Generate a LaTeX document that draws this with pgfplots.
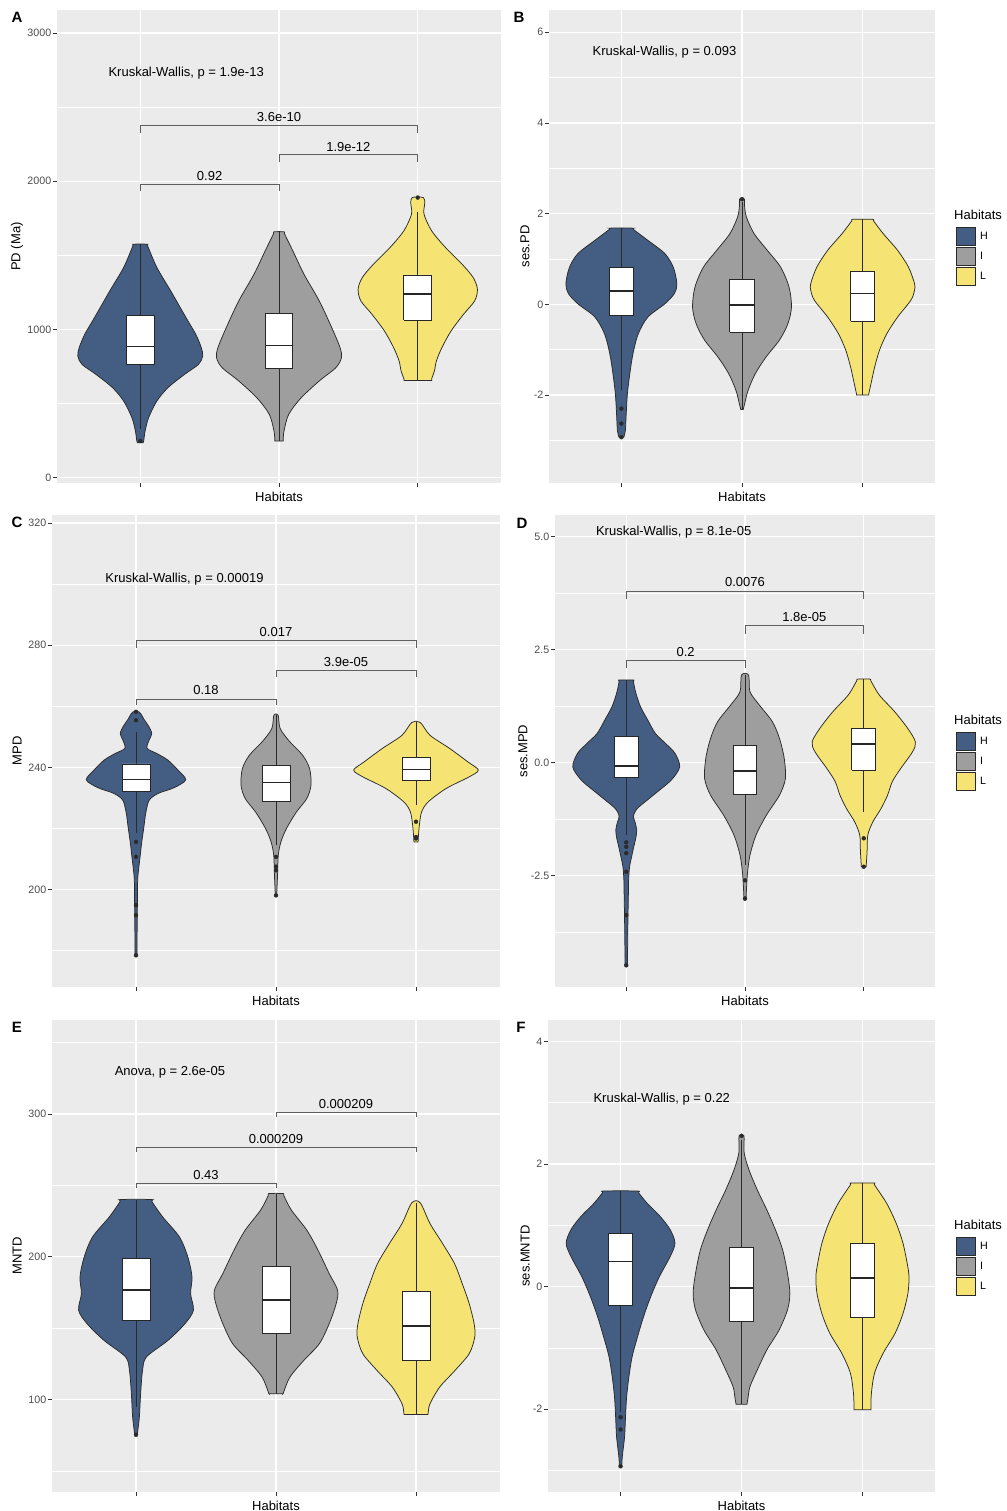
\documentclass[border=0pt]{standalone}
\usepackage{pgfplots}
\pgfplotsset{compat=1.18}
\usepackage{pgfplotstable}
\usepackage{fontspec}
\setmainfont{Liberation Sans}

\definecolor{ggbg}{HTML}{EBEBEB}
\definecolor{colH}{HTML}{445D82}
\definecolor{colI}{HTML}{9E9E9E}
\definecolor{colL}{HTML}{F5E473}
\definecolor{ggtxt}{HTML}{4D4D4D}
\definecolor{ggtick}{HTML}{333333}
\definecolor{ggbrk}{HTML}{5F5F5F}
\definecolor{ggline}{HTML}{2A2A2A}

\newcommand{\fsTick}{\fontsize{10.7}{12}\selectfont}
\newcommand{\fsText}{\fontsize{13}{15}\selectfont}
\newcommand{\fsTag}{\bfseries\fontsize{15}{17}\selectfont}

% turn a half-width profile (y, w; bottom to top) into a closed outline:
% right side upwards (s=1) followed by left side downwards (s=-1)
\newcommand{\mkviolin}[1]{%
  \pgfplotstablesort[sort key=y, sort cmp=float >]{\vtmp}{#1}%
  \pgfplotstablecreatecol[create col/expr={1}]{s}{#1}%
  \pgfplotstablecreatecol[create col/expr={-1}]{s}{\vtmp}%
  \pgfplotstablevertcat{#1}{\vtmp}%
}

% ---------- violin profiles: y and half width (category units) ----------
% Panel A : PD
\pgfplotstableread{
y w
236 0.02
250 0.025
315 0.035
405 0.06
518 0.12
608 0.20
698 0.32
765 0.42
821 0.45
878 0.44
968 0.40
1080 0.33
1260 0.22
1418 0.12
1560 0.055
1575 0.05
}\vAH
\pgfplotstableread{
y w
248 0.03
315 0.036
428 0.07
540 0.16
653 0.29
743 0.41
810 0.45
878 0.44
1013 0.38
1193 0.29
1373 0.18
1530 0.10
1645 0.04
1659 0.036
}\vAI
\pgfplotstableread{
y w
657 0.10
668 0.10
720 0.12
790 0.135
880 0.175
990 0.24
1103 0.33
1193 0.41
1271 0.43
1350 0.40
1440 0.32
1553 0.20
1666 0.10
1778 0.045
1850 0.05
1890 0.04
}\vAL
% Panel B : ses.PD
\pgfplotstableread{
y w
-2.93 0.02
-2.78 0.033
-2.41 0.04
-1.97 0.05
-1.53 0.07
-1.09 0.096
-0.65 0.14
-0.28 0.22
0.01 0.36
0.24 0.44
0.46 0.46
0.82 0.43
1.12 0.36
1.41 0.22
1.65 0.10
1.68 0.09
}\vBH
\pgfplotstableread{
y w
-2.32 0.01
-2.19 0.022
-1.90 0.05
-1.53 0.11
-1.16 0.20
-0.79 0.31
-0.43 0.38
-0.06 0.41
0.38 0.39
0.82 0.32
1.19 0.21
1.56 0.10
1.93 0.036
2.20 0.02
2.32 0.02
}\vBI
\pgfplotstableread{
y w
-2.0 0.05
-1.96 0.052
-1.68 0.075
-1.38 0.10
-1.01 0.14
-0.65 0.20
-0.28 0.29
0.09 0.40
0.31 0.43
0.46 0.43
0.82 0.38
1.19 0.29
1.56 0.17
1.84 0.09
1.875 0.08
}\vBL
% Panel C : MPD
\pgfplotstableread{
y w
178.0 0.008
186.0 0.008
195.0 0.01
203.0 0.012
206.4 0.018
211.0 0.03
215.2 0.04
220.0 0.055
225.1 0.07
229.3 0.095
231.5 0.16
233.3 0.27
235.9 0.355
239.1 0.30
242.4 0.227
244.5 0.15
246.2 0.08
248.5 0.09
251.1 0.112
253.5 0.09
255.5 0.06
257.5 0.035
258.2 0.02
}\vCH
\pgfplotstableread{
y w
198.1 0.005
205.8 0.012
211.2 0.016
215.6 0.035
220.0 0.075
225.4 0.146
229.8 0.22
234.2 0.25
239.6 0.24
244.0 0.19
248.3 0.10
252.7 0.03
257.1 0.015
}\vCI
\pgfplotstableread{
y w
215.6 0.015
216.7 0.016
221.1 0.024
225.4 0.04
228.7 0.087
233.1 0.216
236.9 0.38
239.1 0.445
241.8 0.37
246.2 0.24
250.5 0.10
254.7 0.03
}\vCL
% Panel D : ses.MPD
\pgfplotstableread{
y w
-4.49 0.01
-4.20 0.011
-3.50 0.014
-2.90 0.018
-2.59 0.02
-2.30 0.028
-2.08 0.045
-1.86 0.063
-1.67 0.08
-1.49 0.088
-1.32 0.075
-1.19 0.06
-1.08 0.075
-0.97 0.11
-0.68 0.245
-0.38 0.38
-0.09 0.45
0.21 0.41
0.43 0.33
0.65 0.245
0.95 0.18
1.24 0.12
1.55 0.08
1.80 0.06
1.83 0.059
}\vDH
\pgfplotstableread{
y w
-3.04 0.008
-2.71 0.014
-2.41 0.022
-2.04 0.042
-1.60 0.093
-1.16 0.18
-0.72 0.29
-0.35 0.34
0.10 0.33
0.54 0.29
0.91 0.23
1.28 0.12
1.57 0.042
1.94 0.03
}\vDI
\pgfplotstableread{
y w
-2.30 0.02
-1.97 0.028
-1.60 0.034
-1.31 0.076
-1.01 0.146
-0.72 0.20
-0.42 0.24
-0.13 0.31
0.24 0.41
0.46 0.435
0.76 0.37
1.13 0.26
1.50 0.13
1.81 0.06
1.85 0.05
}\vDL
% Panel E : MNTD
\pgfplotstableread{
y w
76.3 0.01
88.0 0.024
104.3 0.033
120.7 0.047
130.0 0.075
141.7 0.23
153.3 0.35
162.7 0.41
174.3 0.39
186.0 0.40
200.0 0.37
214.0 0.31
228.0 0.19
238.5 0.115
240.1 0.11
}\vEH
\pgfplotstableread{
y w
104.3 0.05
105.5 0.055
116.0 0.10
127.7 0.20
139.3 0.31
153.3 0.38
167.3 0.43
176.7 0.44
188.3 0.38
204.7 0.30
218.7 0.22
232.7 0.11
243.0 0.055
244.3 0.05
}\vEI
\pgfplotstableread{
y w
89.8 0.085
91.0 0.087
97.3 0.10
109.0 0.17
120.7 0.28
132.3 0.38
144.0 0.42
153.3 0.415
167.3 0.38
181.3 0.33
195.3 0.275
209.3 0.19
223.3 0.10
237.8 0.03
}\vEL
% Panel F : ses.MNTD
\pgfplotstableread{
y w
-2.94 0.01
-2.78 0.014
-2.45 0.033
-2.12 0.041
-1.80 0.05
-1.47 0.069
-1.14 0.096
-0.82 0.14
-0.49 0.19
-0.16 0.25
0.16 0.32
0.49 0.41
0.71 0.45
0.93 0.41
1.14 0.33
1.36 0.22
1.53 0.15
1.56 0.14
}\vFH
\pgfplotstableread{
y w
-1.92 0.045
-1.80 0.055
-1.63 0.07
-1.36 0.13
-1.03 0.21
-0.71 0.31
-0.38 0.38
-0.11 0.40
0.22 0.38
0.60 0.34
0.93 0.28
1.25 0.21
1.58 0.13
1.90 0.063
2.18 0.022
2.46 0.02
}\vFI
\pgfplotstableread{
y w
-2.01 0.07
-1.98 0.07
-1.74 0.074
-1.41 0.10
-1.09 0.17
-0.76 0.27
-0.44 0.335
-0.11 0.376
0.16 0.385
0.38 0.37
0.71 0.335
1.03 0.28
1.36 0.20
1.66 0.10
1.69 0.096
}\vFL

\mkviolin{\vAH}\mkviolin{\vAI}\mkviolin{\vAL}
\mkviolin{\vBH}\mkviolin{\vBI}\mkviolin{\vBL}
\mkviolin{\vCH}\mkviolin{\vCI}\mkviolin{\vCL}
\mkviolin{\vDH}\mkviolin{\vDI}\mkviolin{\vDL}
\mkviolin{\vEH}\mkviolin{\vEI}\mkviolin{\vEL}
\mkviolin{\vFH}\mkviolin{\vFI}\mkviolin{\vFL}

% violin: position, outline table, fill colour
\newcommand{\violin}[3]{%
  \addplot[fill=#3, draw=ggline, line width=0.75pt, smooth, tension=0.5]
    table[x expr={#1+\thisrow{s}*\thisrow{w}}, y=y] {#2} -- cycle;
}
% box and whiskers: left edge, centre, right edge, lower whisker, Q1, median, Q3, upper whisker
\newcommand{\gbox}[8]{%
  \addplot[draw=ggline, line width=0.9pt] coordinates {(#2,#4) (#2,#5)};
  \addplot[draw=ggline, line width=0.9pt] coordinates {(#2,#7) (#2,#8)};
  \addplot[fill=white, draw=black!85, line width=0.9pt]
    coordinates {(#1,#5) (#3,#5) (#3,#7) (#1,#7) (#1,#5)};
  \addplot[draw=black!85, line width=1.7pt] coordinates {(#1,#6) (#3,#6)};
}
% outlying points
\newcommand{\outl}[1]{%
  \addplot[only marks, mark=*, mark size=2pt,
    mark options={draw=ggline, fill=ggline, line width=0.3pt}] coordinates {#1};
}
% bracket: x1, x2, centre, bar height, foot height, label height, label
\newcommand{\bracket}[7]{%
  \addplot[draw=ggbrk, line width=0.8pt] coordinates {(#1,#5) (#1,#4) (#2,#4) (#2,#5)};
  \node[font=\fsText] at (axis cs:#3,#6) {#7};
}

\pgfplotsset{
  ggpanel/.style={
    scale only axis, clip=false,
    axis background/.style={fill=ggbg},
    axis line style={draw=none},
    tick align=outside, tick pos=left,
    major tick length=4pt, minor tick length=0pt,
    tick style={draw=ggtick, line width=0.8pt},
    xmin=0.4, xmax=3.6, xtick={1,2,3}, xticklabels={,,},
    xmajorgrids, ymajorgrids, yminorgrids,
    major grid style={draw=white, line width=1.2pt},
    minor grid style={draw=white, line width=0.6pt},
    yticklabel style={font=\fsTick, text=ggtxt, inner sep=1.5pt},
    xlabel={Habitats},
    xlabel style={at={(axis description cs:0.5,0)}, anchor=center, yshift=-13.5pt, font=\fsText},
    ylabel style={anchor=center, font=\fsText},
  },
}

% legend block placed right of a panel
\newcommand{\habitatlegend}[1]{%
  \begin{scope}[shift={(#1.north east)}]
    \node[anchor=west, font=\fsText, inner sep=0pt] at (19pt,-205pt) {Habitats};
    \filldraw[fill=colH, draw=ggline, line width=0.6pt] (21pt,-217pt) rectangle (40pt,-235.5pt);
    \filldraw[fill=colI, draw=ggline, line width=0.6pt] (21pt,-237pt) rectangle (40pt,-255.5pt);
    \filldraw[fill=colL, draw=ggline, line width=0.6pt] (21pt,-257pt) rectangle (40pt,-275.5pt);
    \node[anchor=west, font=\fsTick, inner sep=0pt] at (45pt,-226pt) {H};
    \node[anchor=west, font=\fsTick, inner sep=0pt] at (45pt,-246pt) {I};
    \node[anchor=west, font=\fsTick, inner sep=0pt] at (45pt,-266pt) {L};
  \end{scope}
}

\begin{document}
\begin{tikzpicture}
\path[use as bounding box] (0,0) rectangle (1006pt,-1511pt);

% ---------------- A ----------------
\begin{axis}[ggpanel, name=pA, at={(57pt,-10pt)}, anchor=north west,
  width=444pt, height=473pt, ymin=-35, ymax=3155,
  ytick={0,1000,2000,3000}, yticklabels={0,1000,2000,3000},
  minor ytick={500,1500,2500},
  ylabel={PD (Ma)}, ylabel style={at={(axis description cs:-0.09,0.5)}}]
\violin{1}{\vAH}{colH}
\violin{2}{\vAI}{colI}
\violin{3}{\vAL}{colL}
\gbox{0.9}{1}{1.1}{330}{765}{885}{1092}{1575}
\gbox{1.9}{2}{2.1}{248}{736}{893}{1109}{1659}
\gbox{2.9}{3}{3.1}{657}{1062}{1238}{1368}{1790}
\outl{(1,248) (3,1890)}
\bracket{1}{2}{1.5}{1980}{1931}{2037}{0.92}
\bracket{2}{3}{2.5}{2179}{2127}{2233}{1.9e-12}
\bracket{1}{3}{2}{2374}{2325}{2431}{3.6e-10}
\node[anchor=west, font=\fsText, inner sep=0pt] at (axis cs:0.77,2728) {Kruskal-Wallis, p = 1.9e-13};
\end{axis}

% ---------------- B ----------------
\begin{axis}[ggpanel, name=pB, at={(549pt,-10pt)}, anchor=north west,
  width=386pt, height=473pt, ymin=-3.94, ymax=6.49,
  ytick={-2,0,2,4,6}, yticklabels={-2,0,2,4,6},
  minor ytick={-3,-1,1,3,5},
  ylabel={ses.PD}, ylabel style={at={(axis description cs:-0.062,0.5)}}]
\violin{1}{\vBH}{colH}
\violin{2}{\vBI}{colI}
\violin{3}{\vBL}{colL}
\gbox{0.9}{1}{1.1}{-1.9}{-0.24}{0.29}{0.82}{1.68}
\gbox{1.9}{2}{2.1}{-2.32}{-0.61}{-0.02}{0.55}{2.25}
\gbox{2.9}{3}{3.1}{-2.0}{-0.37}{0.24}{0.73}{1.875}
\outl{(1,-2.30) (1,-2.63) (1,-2.93) (2,2.32)}
\node[anchor=west, font=\fsText, inner sep=0pt] at (axis cs:0.76,5.57) {Kruskal-Wallis, p = 0.093};
\end{axis}
\habitatlegend{pB}

% ---------------- C ----------------
\begin{axis}[ggpanel, name=pC, at={(52pt,-515pt)}, anchor=north west,
  width=448pt, height=472pt, ymin=168.1, ymax=322.6,
  ytick={200,240,280,320}, yticklabels={200,240,280,320},
  minor ytick={180,220,260,300},
  ylabel={MPD}, ylabel style={at={(axis description cs:-0.078,0.5)}}]
\violin{1}{\vCH}{colH}
\violin{2}{\vCI}{colI}
\violin{3}{\vCL}{colL}
\gbox{0.9}{1}{1.1}{218.5}{232.0}{236.0}{241.1}{251.6}
\gbox{1.9}{2}{2.1}{214.5}{228.9}{235.0}{240.7}{257.1}
\gbox{2.9}{3}{3.1}{227.6}{235.8}{239.3}{243.3}{254.7}
\outl{(1,258.2) (1,255.4) (1,215.6) (1,210.7) (1,194.9) (1,191.6) (1,178.5)
      (2,210.7) (2,207.5) (2,206.3) (2,198.1) (3,222.2) (3,217.2) (3,216.7)}
\bracket{1}{2}{1.5}{262.3}{260.4}{265.3}{0.18}
\bracket{2}{3}{2.5}{271.8}{269.6}{274.5}{3.9e-05}
\bracket{1}{3}{2}{281.4}{279.2}{284.4}{0.017}
\node[anchor=west, font=\fsText, inner sep=0pt] at (axis cs:0.78,301.6) {Kruskal-Wallis, p = 0.00019};
\end{axis}

% ---------------- D ----------------
\begin{axis}[ggpanel, name=pD, at={(555pt,-515pt)}, anchor=north west,
  width=380pt, height=472pt, ymin=-4.96, ymax=5.48,
  ytick={-2.5,0,2.5,5}, yticklabels={-2.5,0.0,2.5,5.0},
  minor ytick={-3.75,-1.25,1.25,3.75},
  ylabel={ses.MPD}, ylabel style={at={(axis description cs:-0.084,0.5)}}]
\violin{1}{\vDH}{colH}
\violin{2}{\vDI}{colI}
\violin{3}{\vDL}{colL}
\gbox{0.9}{1}{1.1}{-1.6}{-0.33}{-0.07}{0.58}{1.83}
\gbox{1.9}{2}{2.1}{-2.26}{-0.69}{-0.18}{0.38}{1.94}
\gbox{2.9}{3}{3.1}{-1.1}{-0.16}{0.41}{0.76}{1.85}
\outl{(1,-1.76) (1,-1.86) (1,-2.0) (1,-2.41) (1,-3.37) (1,-4.48) (2,-2.6) (2,-3.0) (3,-1.67) (3,-2.3)}
\bracket{1}{2}{1.5}{2.27}{2.09}{2.46}{0.2}
\bracket{2}{3}{2.5}{3.03}{2.84}{3.22}{1.8e-05}
\bracket{1}{3}{2}{3.80}{3.62}{3.99}{0.0076}
\node[anchor=west, font=\fsText, inner sep=0pt] at (axis cs:0.744,5.09) {Kruskal-Wallis, p = 8.1e-05};
\end{axis}
\habitatlegend{pD}

% ---------------- E ----------------
\begin{axis}[ggpanel, name=pE, at={(52pt,-1020pt)}, anchor=north west,
  width=448pt, height=472pt, ymin=35.5, ymax=365.7,
  ytick={100,200,300}, yticklabels={100,200,300},
  minor ytick={50,150,250,350},
  ylabel={MNTD}, ylabel style={at={(axis description cs:-0.078,0.5)}}]
\violin{1}{\vEH}{colH}
\violin{2}{\vEI}{colI}
\violin{3}{\vEL}{colL}
\gbox{0.9}{1}{1.1}{95}{155.2}{176.7}{198.8}{240.1}
\gbox{1.9}{2}{2.1}{104.3}{146.3}{169.7}{193.5}{244.3}
\gbox{2.9}{3}{3.1}{89.8}{127.2}{151.5}{175.5}{237.8}
\outl{(1,75.5)}
\bracket{1}{2}{1.5}{251.3}{248.3}{257.2}{0.43}
\bracket{1}{3}{2}{276.5}{273.5}{282.1}{0.000209}
\bracket{2}{3}{2.5}{300.8}{298.0}{306.7}{0.000209}
\node[anchor=west, font=\fsText, inner sep=0pt] at (axis cs:0.847,328.8) {Anova, p = 2.6e-05};
\end{axis}

% ---------------- F ----------------
\begin{axis}[ggpanel, name=pF, at={(548pt,-1020pt)}, anchor=north west,
  width=387pt, height=472pt, ymin=-3.35, ymax=4.35,
  ytick={-2,0,2,4}, yticklabels={-2,0,2,4},
  minor ytick={-3,-1,1,3},
  ylabel={ses.MNTD}, ylabel style={at={(axis description cs:-0.059,0.5)}}]
\violin{1}{\vFH}{colH}
\violin{2}{\vFI}{colI}
\violin{3}{\vFL}{colL}
\gbox{0.9}{1}{1.1}{-2.04}{-0.30}{0.41}{0.86}{1.56}
\gbox{1.9}{2}{2.1}{-1.92}{-0.56}{-0.02}{0.64}{2.40}
\gbox{2.9}{3}{3.1}{-2.01}{-0.50}{0.14}{0.71}{1.69}
\outl{(1,-2.13) (1,-2.33) (1,-2.93) (2,2.46)}
\node[anchor=west, font=\fsText, inner sep=0pt] at (axis cs:0.775,3.06) {Kruskal-Wallis, p = 0.22};
\end{axis}
\habitatlegend{pF}

% panel tags
\node[font=\fsTag] at (17pt,-17pt) {A};
\node[font=\fsTag] at (519pt,-17pt) {B};
\node[font=\fsTag] at (17pt,-522pt) {C};
\node[font=\fsTag] at (522pt,-523pt) {D};
\node[font=\fsTag] at (17pt,-1027pt) {E};
\node[font=\fsTag] at (521pt,-1027pt) {F};
\end{tikzpicture}
\end{document}
